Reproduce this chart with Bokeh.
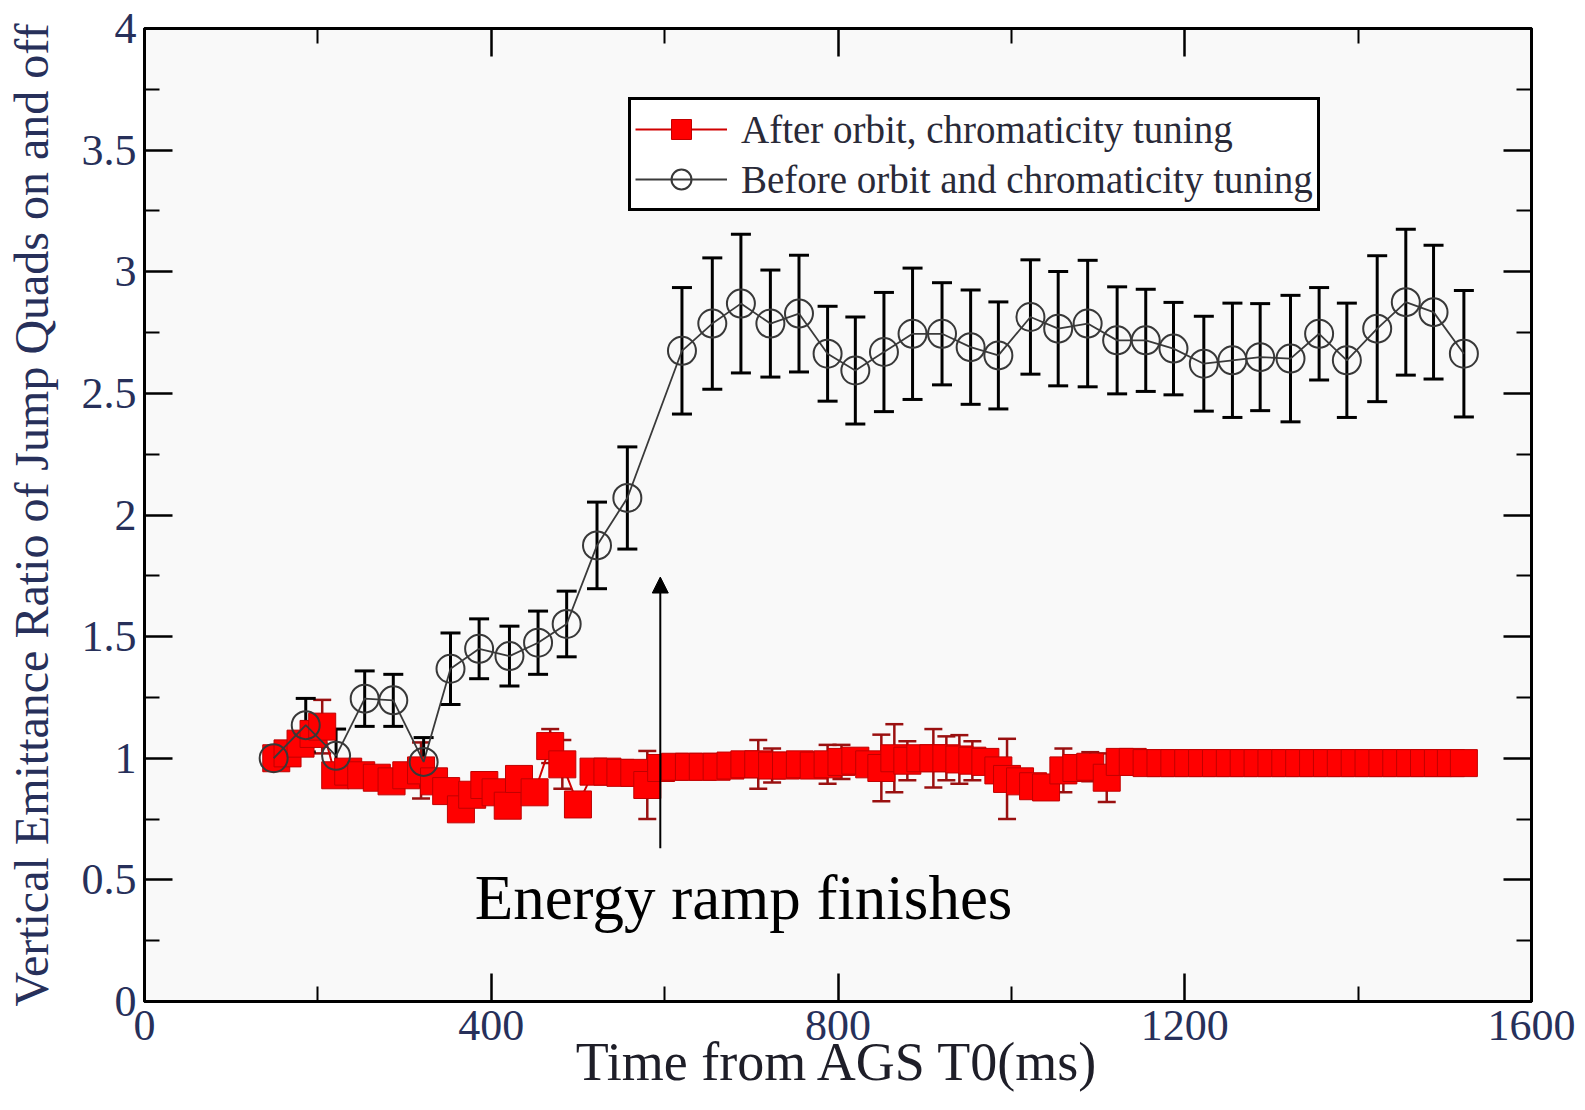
from bokeh.plotting import figure
from bokeh.models import (ColumnDataSource, Range1d, FixedTicker, LinearAxis, Whisker,
                          TeeHead, Legend, LegendItem, Label, Arrow, NormalHead,
                          CustomJSTickFormatter)
from bokeh.embed import file_html
from bokeh.resources import INLINE

# ---------------- data ----------------
before_t = [149, 186, 221, 254, 287, 322, 353, 386, 421, 454, 487, 522, 557,
            620, 655, 688, 722, 755, 788, 820, 853, 886, 920, 953, 985,
            1022, 1054, 1088, 1122, 1155, 1187, 1222, 1255, 1287, 1322, 1355,
            1387, 1422, 1455, 1487, 1522]
before_v = [1.00, 1.136, 1.01, 1.245, 1.238, 0.985, 1.368, 1.45, 1.42, 1.475, 1.552,
            1.875, 2.07,
            2.675, 2.787, 2.869, 2.787, 2.828, 2.663, 2.594, 2.67, 2.745, 2.745,
            2.69, 2.656, 2.814, 2.766, 2.787, 2.718, 2.718, 2.684, 2.622, 2.636,
            2.649, 2.643, 2.745, 2.636, 2.766, 2.875, 2.834, 2.663]
before_err = [0.04, 0.11, 0.11, 0.114, 0.107, 0.10, 0.147, 0.123, 0.123, 0.13, 0.135,
              0.178, 0.21,
              0.26, 0.27, 0.285, 0.22, 0.24, 0.195, 0.22, 0.245, 0.27, 0.21,
              0.235, 0.22, 0.235, 0.235, 0.26, 0.22, 0.21, 0.19, 0.195, 0.235,
              0.22, 0.26, 0.19, 0.235, 0.30, 0.30, 0.275, 0.26]

after_t = [152, 165, 180, 195, 205, 220, 235, 250, 268, 285, 302, 319, 334, 348,
           365, 378, 392, 405, 419, 432, 450, 468, 482, 500, 518, 534, 549, 565,
           580, 596, 612, 628, 644, 660, 676, 692, 708, 724, 740, 756, 772, 788,
           804, 820, 836, 850, 865, 880, 895, 910, 925, 940, 955, 970, 985, 995,
           1010, 1025, 1040, 1060, 1075, 1091, 1110, 1125, 1140, 1156, 1172, 1188,
           1204, 1220, 1236, 1252, 1268, 1284, 1300, 1316, 1332, 1348, 1364, 1380,
           1396, 1412, 1428, 1444, 1460, 1476, 1492, 1507, 1522]
after_v = [1.00, 1.02, 1.06, 1.10, 1.13, 0.93, 0.945, 0.93, 0.92, 0.905, 0.93, 0.95,
           0.905, 0.865, 0.79, 0.85, 0.89, 0.86, 0.805, 0.915, 0.86, 1.05, 0.975,
           0.81, 0.945, 0.945, 0.94, 0.94, 0.89, 0.96, 0.965, 0.965, 0.965, 0.965,
           0.97, 0.975, 0.975, 0.97, 0.97, 0.975, 0.97, 0.975, 0.985, 0.99, 0.975,
           0.96, 1.00, 0.99, 1.00, 1.00, 1.00, 0.995, 0.99, 0.985, 0.95, 0.915,
           0.905, 0.885, 0.88, 0.95, 0.96, 0.965, 0.92, 0.985, 0.985, 0.98, 0.98,
           0.98, 0.98, 0.98, 0.98, 0.98, 0.98, 0.98, 0.98, 0.98, 0.98, 0.98, 0.98,
           0.98, 0.98, 0.98, 0.98, 0.98, 0.98, 0.98, 0.98, 0.98, 0.98]
after_err = [0.03, 0.03, 0.04, 0.05, 0.11, 0.03, 0.03, 0.03, 0.03, 0.03, 0.03, 0.115,
             0.03, 0.03, 0.03, 0.03, 0.03, 0.03, 0.03, 0.03, 0.03, 0.07, 0.10,
             0.04, 0.03, 0.03, 0.03, 0.03, 0.14, 0.03, 0.03, 0.03, 0.03, 0.03,
             0.03, 0.03, 0.10, 0.07, 0.03, 0.03, 0.03, 0.08, 0.07, 0.03, 0.03,
             0.137, 0.14, 0.08, 0.03, 0.12, 0.09, 0.10, 0.08, 0.03, 0.03, 0.165,
             0.03, 0.03, 0.03, 0.09, 0.03, 0.06, 0.10, 0.03, 0.03, 0.02, 0.02,
             0.02, 0.02, 0.02, 0.02, 0.02, 0.02, 0.02, 0.02, 0.02, 0.02, 0.02, 0.02,
             0.02, 0.02, 0.02, 0.02, 0.02, 0.02, 0.02, 0.02, 0.02, 0.02]

x_ticks = [0, 400, 800, 1200, 1600]
x_minor = [200, 600, 1000, 1400]
y_ticks = [0, 0.5, 1, 1.5, 2, 2.5, 3, 3.5, 4]
y_tick_labels = ["0", "0.5", "1", "1.5", "2", "2.5", "3", "3.5", "4"]
y_minor = [0.25, 0.75, 1.25, 1.75, 2.25, 2.75, 3.25, 3.75]

label_after = "After orbit, chromaticity tuning"
label_before = "Before orbit and chromaticity tuning"
annotation_text = "Energy ramp finishes"

# ---------------- figure ----------------
SERIF = "Liberation Serif"
TICK_COLOR = "#27305a"

p = figure(width=1585, height=1110, output_backend="svg", toolbar_location=None,
           x_range=Range1d(0, 1600), y_range=Range1d(0, 4),
           min_border_left=144, min_border_right=54, min_border_top=28,
           min_border_bottom=109)
p.background_fill_color = "#f9f9f9"
p.border_fill_color = "white"
p.outline_line_color = "black"
p.outline_line_width = 3
p.xgrid.visible = False
p.ygrid.visible = False

xt = FixedTicker(ticks=x_ticks, minor_ticks=x_minor)
yt = FixedTicker(ticks=y_ticks, minor_ticks=y_minor)


def style_axis(ax):
    ax.axis_line_color = "black"
    ax.axis_line_width = 3
    ax.major_tick_in = 28
    ax.major_tick_out = 0
    ax.minor_tick_in = 15
    ax.minor_tick_out = 0
    ax.major_tick_line_width = 2.5
    ax.minor_tick_line_width = 2
    ax.major_tick_line_color = "black"
    ax.minor_tick_line_color = "black"
    ax.major_label_text_font = SERIF
    ax.major_label_text_font_size = "44px"
    ax.major_label_text_color = TICK_COLOR
    ax.axis_label_text_font = SERIF
    ax.axis_label_text_font_style = "normal"


xa = p.xaxis[0]
xa.ticker = xt
style_axis(xa)
xa.major_label_standoff = 9
xa.axis_label = "Time from AGS T0(ms)"
xa.axis_label_text_font_size = "54px"
xa.axis_label_text_color = "#1e1e28"
xa.axis_label_standoff = -11

ya = p.yaxis[0]
ya.ticker = yt
style_axis(ya)
ya.major_label_standoff = 8
ya.major_label_overrides = {t: s for t, s in zip(y_ticks, y_tick_labels)}
ya.axis_label = "Vertical Emittance Ratio of Jump Quads on and off"
ya.axis_label_text_font_size = "48px"
ya.axis_label_text_color = TICK_COLOR
ya.axis_label_standoff = 21

blank = CustomJSTickFormatter(code="return ''")
ra = LinearAxis(ticker=yt, formatter=blank)
style_axis(ra)
ra.major_label_text_font_size = "0px"
p.add_layout(ra, "right")
ta = LinearAxis(ticker=xt, formatter=blank)
style_axis(ta)
ta.major_label_text_font_size = "0px"
p.add_layout(ta, "above")

# ---------------- series ----------------
src_a = ColumnDataSource(dict(t=after_t, v=after_v,
                              lo=[v - e for v, e in zip(after_v, after_err)],
                              hi=[v + e for v, e in zip(after_v, after_err)]))
src_b = ColumnDataSource(dict(t=before_t, v=before_v,
                              lo=[v - e for v, e in zip(before_v, before_err)],
                              hi=[v + e for v, e in zip(before_v, before_err)]))

RED_DARK = "#9a1010"
wa = Whisker(source=src_a, base="t", lower="lo", upper="hi", dimension="height",
             line_color=RED_DARK, line_width=2.5,
             upper_head=TeeHead(size=18, line_color=RED_DARK, line_width=2.5),
             lower_head=TeeHead(size=18, line_color=RED_DARK, line_width=2.5))
p.add_layout(wa)
a_line = p.line("t", "v", source=src_a, line_color="#d00000", line_width=2)
a_pts = p.scatter("t", "v", source=src_a, marker="square", size=27,
                  fill_color="#ff0000", line_color="#c00000", line_width=1)

wb = Whisker(source=src_b, base="t", lower="lo", upper="hi", dimension="height",
             line_color="black", line_width=3,
             upper_head=TeeHead(size=20, line_color="black", line_width=3),
             lower_head=TeeHead(size=20, line_color="black", line_width=3))
b_line = p.line("t", "v", source=src_b, line_color="#3a3a3a", line_width=1.8)
b_pts = p.scatter("t", "v", source=src_b, marker="circle", size=28,
                  fill_color=None, line_color="#383838", line_width=2)
p.add_layout(wb)

# ---------------- legend ----------------
legend = Legend(items=[LegendItem(label=label_after, renderers=[a_line, a_pts]),
                       LegendItem(label=label_before, renderers=[b_line, b_pts])],
                location=(484, 790), margin=0, padding=4, spacing=0,
                glyph_width=92, glyph_height=50, label_height=50,
                label_standoff=14,
                label_text_font=SERIF, label_text_font_size="39px",
                label_text_color="#2a2a38",
                border_line_color="black", border_line_width=3,
                border_line_alpha=1,
                background_fill_color="white", background_fill_alpha=1)
p.add_layout(legend)

# ---------------- annotation ----------------
p.add_layout(Arrow(x_start=595, y_start=0.63, x_end=595, y_end=1.745,
                   line_color="black", line_width=2,
                   end=NormalHead(size=16, fill_color="black", line_color="black")))
p.add_layout(Label(x=691, y=0.425, text=annotation_text, text_align="center",
                   text_baseline="alphabetic", text_font=SERIF,
                   text_font_size="63px", text_color="black"))

open("out.html", "w").write(file_html(p, INLINE))
